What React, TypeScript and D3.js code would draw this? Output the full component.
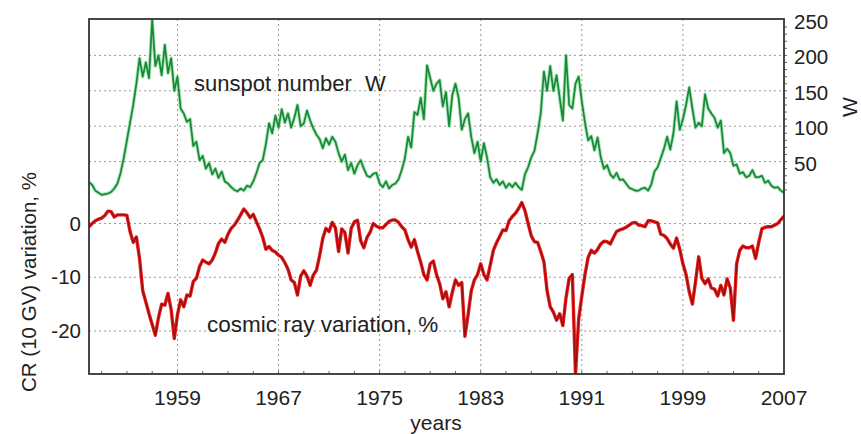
import React from "react";
import * as d3 from "d3";

const startYear = 1952;
const stepYears = 0.25;

const sunspotW = [
  21, 17, 9, 6, 3, 4, 5, 7, 12, 19,
  34, 55, 80, 105, 130, 160, 196, 170, 190, 168,
  250, 185, 200, 172, 215, 175, 196, 150, 170, 125,
  118, 106, 110, 72, 78, 52, 58, 40, 48, 32,
  40, 27, 36, 22, 19, 14, 10, 8, 12, 9,
  16, 14, 22, 34, 48, 52, 75, 104, 90, 115,
  98, 124, 105, 118, 98, 112, 130, 100, 104, 122,
  108, 97, 88, 82, 69, 83, 74, 85, 78, 62,
  50, 60, 38, 48, 33, 45, 52, 40, 30, 28,
  33, 34, 19, 14, 22, 12, 17, 19, 25, 38,
  55, 85, 70, 120, 116, 140, 110, 186, 168, 150,
  160, 165, 128, 148, 100, 144, 160, 140, 95, 110,
  118, 85, 62, 78, 50, 76, 56, 28, 20, 25,
  17, 22, 13, 19, 14, 20, 14, 10, 32, 42,
  56, 65, 90, 118, 177, 150, 185, 150, 172, 140,
  108, 200, 130, 125, 160, 170, 135, 105, 80, 86,
  66, 84, 56, 40, 45, 32, 27, 34, 24, 25,
  19, 13, 11, 9, 9, 12, 13, 9, 18, 36,
  42, 55, 68, 85, 67, 90, 135, 95, 110, 130,
  155, 125, 98, 105, 100, 145, 125, 118, 112, 98,
  108, 62, 68, 62, 44, 46, 33, 35, 28, 30,
  38, 28, 28, 30, 20, 23, 16, 13, 14, 9, 6,
];

const cosmicRay = [
  -0.6, 0, 0.5, 0.8, 1, 1.5, 2.3, 2.2, 1.2, 1.6,
  1.6, 1.6, 1.5, -1.5, -3.5, -2.5, -6.5, -12.5, -14.6, -16.8,
  -18.8, -20.8, -17.5, -15, -15.2, -13, -16, -21.4, -17, -14.2,
  -15.5, -13.3, -13.5, -10.8, -10.2, -8, -6.8, -7.2, -7.5, -6.8,
  -5.5, -3.7, -2.9, -3.5, -2, -0.9, -0.3, 0.6, 1.6, 2.7,
  2, 1.1, 1.7, 0.3, -1, -2.6, -4.8, -4.3, -5, -5.3,
  -5.9, -6.3, -7.3, -8.5, -10.5, -11, -13.3, -9.8, -8.8, -9.8,
  -11.5, -9.6, -8.7, -6, -2.8, -0.9, -1.5, 0.2, -0.8, -5.2,
  -1, -1.7, -5.5, -0.9, 0.3, 0.6, -3.2, -4.5, -2.6, -1.6,
  0, -0.5, -0.8, -0.8, -0.2, 0.4, 0.65, 0.65, 0.2, -0.6,
  -1.2, -3, -4.4, -3, -5.2, -7.2, -9.5, -10.5, -7.5, -7,
  -9.5, -11.2, -14, -12.7, -15.5, -12.8, -10.5, -11.5, -11, -21,
  -17, -12.5, -10.5, -9.5, -7.5, -9.5, -10.5, -7.8, -5, -3.6,
  -2.4, -1.2, -1.3, 0.5, 1.3, 1.9, 2.8, 3.9, 2.4, 0,
  -2.3, -3.4, -3.5, -5.2, -7.1, -12.5, -15.5, -16.5, -18, -16.8,
  -19, -13.8, -10.2, -9.5, -28, -17.8, -13.5, -9.5, -6.3, -5,
  -5.5, -4.8, -3.8, -3.3, -3.4, -3.8, -2.6, -1.5, -1.2, -1,
  -0.7, -0.3, 0.1, 0.2, -0.3, -0.4, -0.6, 0.5, 0.5, 0.3,
  0.1, -2, -2.2, -2.8, -3.8, -4.6, -2.7, -4.8, -7.5, -9.5,
  -12.7, -15, -10.8, -6.2, -10.2, -11.2, -10.3, -12, -12.2, -13.5,
  -11.5, -13.3, -10.3, -12, -18, -7.5, -5, -4.2, -4.5, -4.5,
  -4.2, -6.5, -3.5, -1, -0.7, -0.6, -0.6, -0.3, 0, 0.7, 1.4,
];

const xTicks = [1959, 1967, 1975, 1983, 1991, 1999, 2007];
const crTicks = [0, -10, -20];
const wTicks = [50, 100, 150, 200, 250];

const FONT = "'Liberation Sans', Arial, sans-serif";

export default function App() {
  const W = 861;
  const H = 434;
  const left = 89, right = 784, top = 19, bottom = 374;

  const x = d3.scaleLinear().domain([1952, 2007]).range([left, right]);
  const yW = d3.scaleLinear().domain([0, 250]).range([197, 20]);
  const yCR = d3.scaleLinear().domain([-28, 0]).range([bottom, 223.5]);

  const wPts = sunspotW.map((v, i) => [startYear + i * stepYears, v] as [number, number]);
  const cPts = cosmicRay.map((v, i) => [startYear + i * stepYears, v] as [number, number]);

  const lineW = d3.line<[number, number]>().x((d) => x(d[0])).y((d) => yW(d[1]));
  const lineC = d3.line<[number, number]>().x((d) => x(d[0])).y((d) => yCR(d[1]));

  const minorX = d3.range(1953, 2007, 2);
  const minorW = d3.range(10, 250, 10);

  return (
    <svg
      width={W}
      height={H}
      style={{ position: "absolute", left: 0, top: 0, background: "#fff" }}
      fontFamily={FONT}
    >
      <defs>
        <clipPath id="plotClip">
          <rect x={left} y={top} width={right - left} height={bottom - top} />
        </clipPath>
      </defs>
      <rect x={0} y={0} width={W} height={H} fill="#fff" />

      {/* grid */}
      <g stroke="#9a9a9a" strokeWidth={1} strokeDasharray="2,3">
        {xTicks.filter((t) => t < 2007).map((t) => (
          <line key={"gx" + t} x1={x(t)} x2={x(t)} y1={top} y2={bottom} />
        ))}
        {wTicks.filter((t) => t < 250).map((t) => (
          <line key={"gw" + t} x1={left} x2={right} y1={yW(t)} y2={yW(t)} />
        ))}
        {crTicks.map((t) => (
          <line key={"gc" + t} x1={left} x2={right} y1={yCR(t)} y2={yCR(t)} />
        ))}
      </g>

      {/* data */}
      <g clipPath="url(#plotClip)" fill="none" strokeLinejoin="round">
        <path d={lineW(wPts) || ""} stroke="#6fd47f" strokeWidth={3.6} opacity={0.6} />
        <path d={lineW(wPts) || ""} stroke="#17873a" strokeWidth={1.7} />
        <path d={lineC(cPts) || ""} stroke="#ec1b1b" strokeWidth={3.4} />
        <path d={lineC(cPts) || ""} stroke="#960f0f" strokeWidth={1.3} />
      </g>

      {/* minor ticks */}
      <g stroke="#666" strokeWidth={1}>
        {minorX.map((t) => (
          <line key={"mx" + t} x1={x(t)} x2={x(t)} y1={bottom} y2={bottom - 3} />
        ))}
        {minorW.map((t) => (
          <line key={"mw" + t} x1={right} x2={right + 3} y1={yW(t)} y2={yW(t)} />
        ))}
      </g>

      {/* frame */}
      <rect x={left} y={top} width={right - left} height={bottom - top} fill="none" stroke="#333" strokeWidth={1.8} />

      {/* bottom tick labels */}
      <g fontSize={21} fill="#222" textAnchor="middle">
        {xTicks.map((t) => (
          <text key={"tx" + t} x={x(t)} y={405}>{t}</text>
        ))}
      </g>
      {/* left tick labels */}
      <g fontSize={20.5} fill="#222" textAnchor="end">
        {crTicks.map((t) => (
          <text key={"tc" + t} x={81} y={yCR(t) + 7}>{t}</text>
        ))}
      </g>
      {/* right tick labels */}
      <g fontSize={20.5} fill="#222" textAnchor="start">
        {wTicks.map((t) => (
          <text key={"tw" + t} x={794} y={yW(t) + 9}>{t}</text>
        ))}
      </g>

      {/* axis titles */}
      <text x={436} y={430} fontSize={21} fill="#222" textAnchor="middle">years</text>
      <text
        transform="translate(36,282) rotate(-90)"
        fontSize={20.5}
        fill="#222"
        textAnchor="middle"
      >
        CR (10 GV) variation, %
      </text>
      <text transform="translate(857,107) rotate(-90)" fontSize={21} fill="#222" textAnchor="middle">W</text>

      {/* annotations */}
      <text x={194} y={91} fontSize={22} fill="#222">sunspot number</text>
      <text x={365} y={91} fontSize={22} fill="#222">W</text>
      <text x={207} y={332} fontSize={22.5} fill="#222">cosmic ray variation, %</text>
    </svg>
  );
}
